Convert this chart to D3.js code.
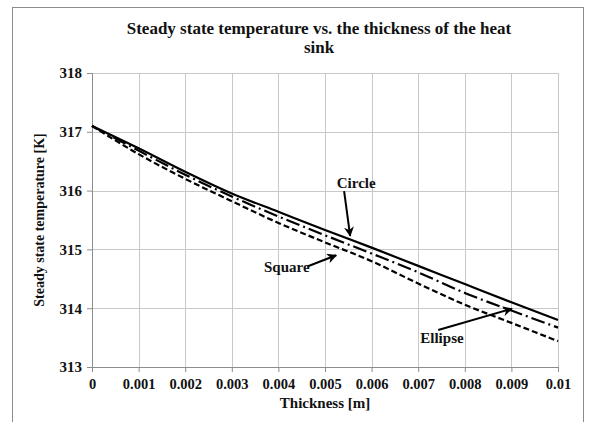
<!DOCTYPE html>
<html>
<head>
<meta charset="utf-8">
<script src="https://cdn.jsdelivr.net/npm/d3@7"></script>
<style>
  body { margin: 0; background: #fff; }
  text { font-family: "Liberation Serif", "Times New Roman", serif; font-weight: bold; fill: #111; }
  .grid line { stroke: #c8c8c8; stroke-width: 1; }
  .axis path, .axis line { stroke: #8c8c8c; }
  .curve { fill: none; stroke: #000; stroke-width: 2.2; }
</style>
</head>
<body>
<div class="chart"></div>
<script>
// thickness in m
var thickness = [0, 0.001, 0.002, 0.003, 0.004, 0.005, 0.006, 0.007, 0.008, 0.009, 0.01];
// steady state temperature [K]
var circle  = [317.10, 316.72, 316.32, 315.95, 315.64, 315.33, 315.03, 314.72, 314.41, 314.10, 313.80];
var ellipse = [317.10, 316.68, 316.27, 315.90, 315.56, 315.24, 314.93, 314.61, 314.26, 313.96, 313.67];
var square  = [317.10, 316.62, 316.20, 315.82, 315.45, 315.12, 314.80, 314.42, 314.06, 313.75, 313.44];
var xTicks = [0, 0.001, 0.002, 0.003, 0.004, 0.005, 0.006, 0.007, 0.008, 0.009, 0.01];
var yTicks = [313, 314, 315, 316, 317, 318];

// callouts: label position and arrow, in data units
var callouts = [
    { name: "Circle",  tx: 0.00567, ty: 316.13, x1: 0.00541, y1: 315.99, x2: 0.00554, y2: 315.23 },
    { name: "Square",  tx: 0.00418, ty: 314.70, x1: 0.00462, y1: 314.71, x2: 0.00524, y2: 314.90 },
    { name: "Ellipse", tx: 0.00751, ty: 313.49, x1: 0.00743, y1: 313.63, x2: 0.00901, y2: 313.99 }
];

var margin = { top: 73, right: 32, bottom: 55, left: 92 },
    width = 590 - margin.left - margin.right,
    height = 422 - margin.top - margin.bottom;

var svg = d3.select(".chart").append("svg")
    .attr("width", 590)
    .attr("height", 422);

// outer frame
svg.append("rect")
    .attr("x", 12.5).attr("y", 7.5)
    .attr("width", 571).attr("height", 430)
    .attr("fill", "none")
    .attr("stroke", "#8c8c8c");

svg.append("defs").append("marker")
    .attr("id", "arrow")
    .attr("viewBox", "0 0 10 10")
    .attr("refX", 9).attr("refY", 5)
    .attr("markerWidth", 5).attr("markerHeight", 5)
    .attr("orient", "auto")
    .append("path")
    .attr("d", "M0,0 L10,5 L0,10 L3,5 Z")
    .attr("fill", "#000");

var g = svg.append("g")
    .attr("transform", "translate(" + margin.left + "," + margin.top + ")");

var x = d3.scaleLinear().domain([0, 0.01]).range([0, width]);
var y = d3.scaleLinear().domain([313, 318]).range([height, 0]);

// grid
g.append("g").attr("class", "grid")
    .selectAll("line").data(yTicks.slice(1)).enter().append("line")
    .attr("x1", 0).attr("x2", width)
    .attr("y1", d => Math.round(y(d)) + 0.5).attr("y2", d => Math.round(y(d)) + 0.5);
g.append("g").attr("class", "grid")
    .selectAll("line").data(xTicks.slice(1)).enter().append("line")
    .attr("y1", 0).attr("y2", height)
    .attr("x1", d => Math.round(x(d)) + 0.5).attr("x2", d => Math.round(x(d)) + 0.5);

var xAxis = d3.axisBottom(x).tickValues(xTicks).tickSize(5).tickSizeOuter(0)
    .tickFormat(d => d === 0 ? "0" : String(+d.toFixed(3)));
var yAxis = d3.axisLeft(y).tickValues(yTicks).tickSize(5).tickSizeOuter(0)
    .tickFormat(d3.format("d"));

g.append("g").attr("class", "x axis")
    .attr("transform", "translate(0," + height + ")")
    .call(xAxis)
    .attr("font-family", null).attr("font-size", null)
    .selectAll("text").attr("y", 12).attr("dy", "0.71em")
    .style("font-size", "14.5px");

g.append("g").attr("class", "y axis")
    .call(yAxis)
    .attr("font-family", null).attr("font-size", null)
    .selectAll("text").attr("x", -10)
    .style("font-size", "15px");

// title
svg.append("text").attr("x", 319).attr("y", 34).attr("text-anchor", "middle")
    .style("font-size", "17px").text("Steady state temperature vs. the thickness of the heat");
svg.append("text").attr("x", 319).attr("y", 53).attr("text-anchor", "middle")
    .style("font-size", "17px").text("sink");

// axis titles
svg.append("text").attr("x", margin.left + width / 2).attr("y", 408).attr("text-anchor", "middle")
    .style("font-size", "15px").text("Thickness [m]");
svg.append("text")
    .attr("transform", "translate(44," + (margin.top + height / 2) + ") rotate(-90)")
    .attr("text-anchor", "middle")
    .style("font-size", "14px").text("Steady state temperature [K]");

var line = d3.line()
    .curve(d3.curveMonotoneX)
    .x((d, i) => x(thickness[i]))
    .y(d => y(d));

var series = [
    { name: "Circle", values: circle, dash: null },
    { name: "Ellipse", values: ellipse, dash: "14,4,2,4" },
    { name: "Square", values: square, dash: "6,3" }
];

g.selectAll(".curve").data(series).enter().append("path")
    .attr("class", "curve")
    .attr("d", d => line(d.values))
    .attr("stroke-dasharray", d => d.dash);

// callouts
var co = g.selectAll(".callout").data(callouts).enter().append("g").attr("class", "callout");
co.append("line")
    .attr("x1", d => x(d.x1)).attr("y1", d => y(d.y1))
    .attr("x2", d => x(d.x2)).attr("y2", d => y(d.y2))
    .attr("stroke", "#000").attr("stroke-width", 2)
    .attr("marker-end", "url(#arrow)");
co.append("text")
    .attr("x", d => x(d.tx)).attr("y", d => y(d.ty))
    .attr("dy", "0.35em")
    .attr("text-anchor", "middle")
    .style("font-size", "15px")
    .text(d => d.name);
</script>
</body>
</html>
